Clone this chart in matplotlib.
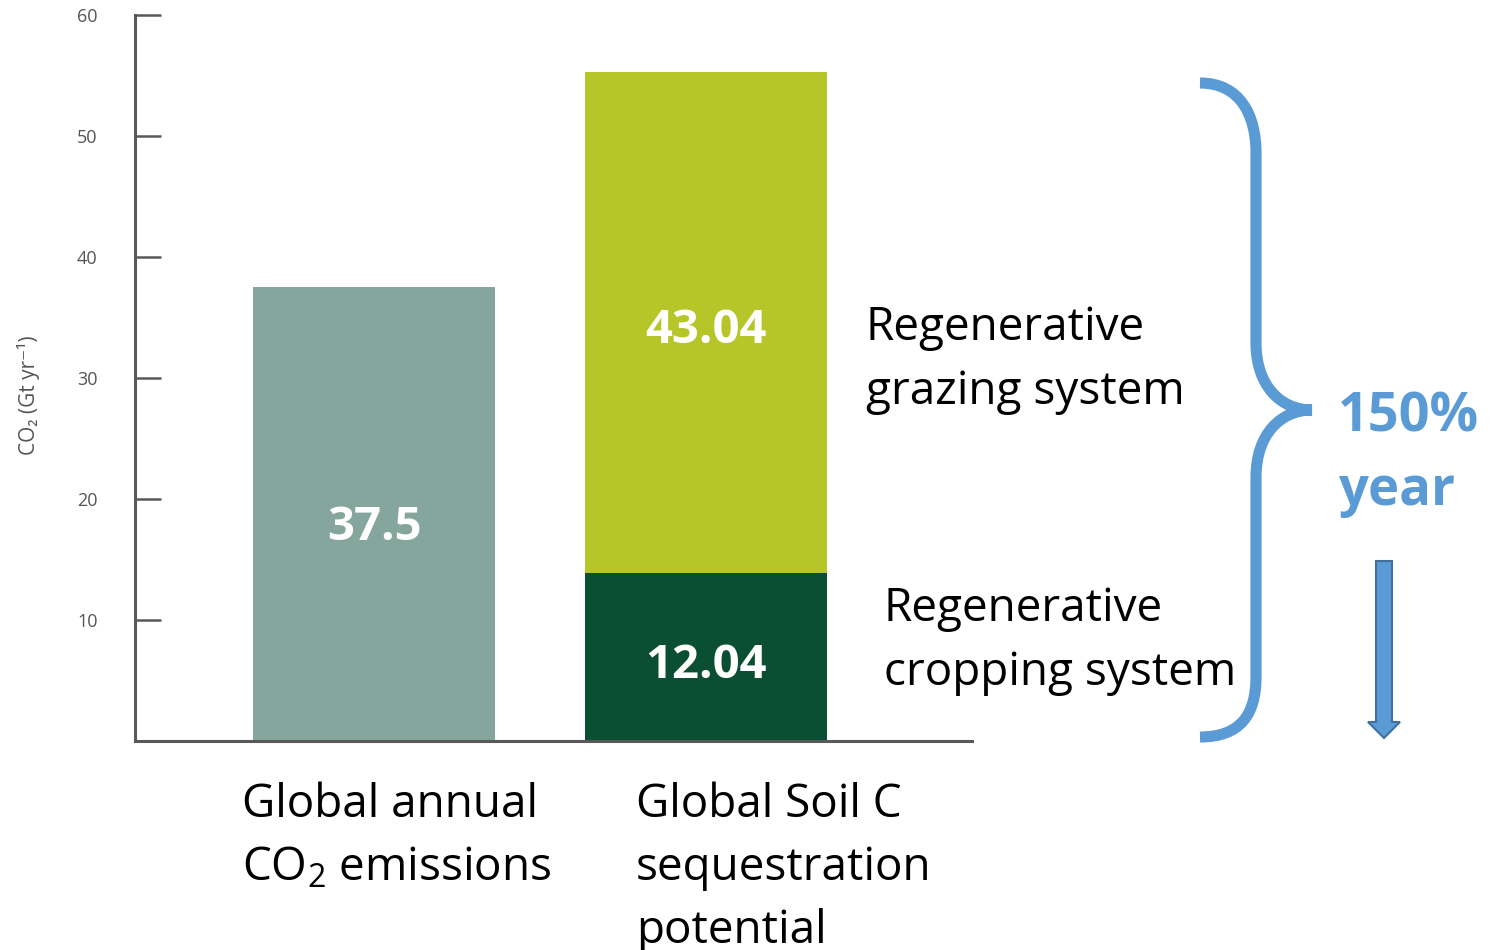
import matplotlib
matplotlib.use("Agg")
import matplotlib.pyplot as plt
from matplotlib.path import Path
from matplotlib.patches import PathPatch, Polygon

plt.rcParams['font.family'] = ['Open Sans', 'DejaVu Sans']
plt.rcParams['mathtext.fontset'] = 'custom'
plt.rcParams['mathtext.rm'] = 'Open Sans'
plt.rcParams['mathtext.it'] = 'Open Sans'

# ---- data ----
categories = ["Global annual\nCO$_\\mathrm{2}$emissions",
              "Global Soil C\nsequestration\npotential"]
emissions = [37.5]
cropping = [13.9]      # bar height as drawn in the picture
grazing = [41.4]       # bar height as drawn in the picture
emissions_label = ["37.5"]
cropping_label = ["12.04"]
grazing_label = ["43.04"]
segment_names = ["Regenerative\ngrazing system", "Regenerative\ncropping system"]
yticks = [10, 20, 30, 40, 50, 60]
ylabel = "CO\u2082 (Gt yr\u207b\u00b9)"
note = ["150%", "year"]

W, H = 1493, 950
fig = plt.figure(figsize=(W / 100, H / 100), dpi=100)

def fx(px):
    return px / W

def fy(py):
    return 1 - py / H

ax = fig.add_axes([fx(135), fy(741), fx(972) - fx(135), fy(15) - fy(741)])

spine_c = "#595959"
c_emis = "#84A69D"
c_graze = "#B6C628"
c_crop = "#0A4F33"
blue = "#5B9BD5"

bw = 0.729
ax.bar([0], emissions, width=bw, color=c_emis)
ax.bar([1], cropping, width=bw, color=c_crop)
ax.bar([1], grazing, width=bw, bottom=cropping, color=c_graze)

ax.set_xlim(-0.72, 1.80)
ax.set_ylim(0, 60)
ax.set_yticks(yticks)
ax.set_yticklabels([str(t) for t in yticks])
ax.set_xticks([])
for s in ["top", "right"]:
    ax.spines[s].set_visible(False)
for s in ["left", "bottom"]:
    ax.spines[s].set_color(spine_c)
    ax.spines[s].set_linewidth(2.2)
ax.tick_params(axis='y', direction='in', length=19, width=1.8, color=spine_c,
               labelsize=13, labelcolor="#555555", pad=27)

# value labels inside bars
ax.text(0, 16.6, emissions_label[0], ha='center', va='baseline', color='white',
        fontsize=34, fontweight='bold')
ax.text(1, 32.9, grazing_label[0], ha='center', va='baseline', color='white',
        fontsize=34, fontweight='bold')
ax.text(1, 5.2, cropping_label[0], ha='center', va='baseline', color='white',
        fontsize=34, fontweight='bold')

# y label
fig.text(fx(28), fy(395), ylabel, rotation=90, ha='center', va='center',
         fontsize=15, color="#555555", family=['Open Sans', 'DejaVu Sans'])

# category labels (line by line at baselines)
cat_x = [242, 636]
cat_base = 817
step = 63
for x, lab in zip(cat_x, categories):
    for i, line in enumerate(lab.split("\n")):
        fig.text(fx(x), fy(cat_base + i * step), line.replace("$emissions", "$ emissions"),
                 ha='left', va='baseline', fontsize=33, color='black')

# segment labels
seg_pos = [(866, 340), (884, 621)]
for (x, yb), lab in zip(seg_pos, segment_names):
    for i, line in enumerate(lab.split("\n")):
        fig.text(fx(x), fy(yb + i * 64), line, ha='left', va='baseline',
                 fontsize=33, color='black')

# 150% year
fig.text(fx(1338), fy(432), note[0], ha='left', va='baseline', fontsize=39,
         fontweight='bold', color=blue)
fig.text(fx(1338), fy(505), note[1], ha='left', va='baseline', fontsize=38,
         fontweight='bold', color=blue)

# overlay for brace and arrow in pixel coordinates
ov = fig.add_axes([0, 0, 1, 1], zorder=5)
ov.set_xlim(0, W)
ov.set_ylim(H, 0)
ov.axis('off')
ov.patch.set_alpha(0)

verts = [(1200, 83), (1240, 83), (1256, 115), (1256, 153),
         (1256, 343),
         (1256, 385), (1280, 410), (1312, 410),
         (1280, 410), (1256, 435), (1256, 477),
         (1256, 677),
         (1256, 715), (1240, 737), (1200, 737)]
codes = [Path.MOVETO, Path.CURVE4, Path.CURVE4, Path.CURVE4,
         Path.LINETO,
         Path.CURVE4, Path.CURVE4, Path.CURVE4,
         Path.CURVE4, Path.CURVE4, Path.CURVE4,
         Path.LINETO,
         Path.CURVE4, Path.CURVE4, Path.CURVE4]
ov.add_patch(PathPatch(Path(verts, codes), facecolor='none', edgecolor=blue,
                       linewidth=8, capstyle='butt', joinstyle='miter'))

arrow = [(1376, 561), (1392, 561), (1392, 722), (1400, 722), (1384, 738),
         (1368, 722), (1376, 722)]
ov.add_patch(Polygon(arrow, closed=True, facecolor=blue, edgecolor="#41719C",
                     linewidth=1.5))

fig.savefig("out.png", dpi=100)
